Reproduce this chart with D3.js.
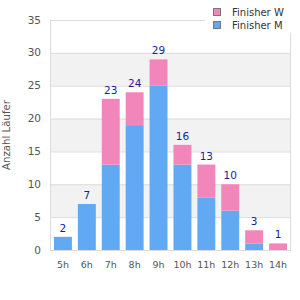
<!DOCTYPE html>
<html>
<head>
<meta charset="utf-8">
<script src="https://cdn.jsdelivr.net/npm/d3@7"></script>
<style>
  body { margin: 0; background: #fff; }
  text { font-family: "DejaVu Sans", sans-serif; }
</style>
</head>
<body>
<div id="chart"></div>
<script>
var hours = ['5h', '6h', '7h', '8h', '9h', '10h', '11h', '12h', '13h', '14h'];
var finisherM = [2, 7, 13, 19, 25, 13, 8, 6, 1, 0];
var finisherW = [0, 0, 10, 5, 4, 3, 5, 4, 2, 1];
var yTicks = [0, 5, 10, 15, 20, 25, 30, 35];
var seriesNames = ['Finisher W', 'Finisher M'];
var seriesColors = ['#f285ba', '#61a9f3'];

var width = 300, height = 300;
var plot = {left: 51, right: 290, top: 20, bottom: 250};

var svg = d3.select('#chart').append('svg')
  .attr('width', width)
  .attr('height', height);

var x = d3.scaleBand()
  .domain(hours)
  .range([plot.left, plot.right])
  .paddingInner(0.25)
  .paddingOuter(0.125);

var y = d3.scaleLinear()
  .domain([0, 35])
  .range([plot.bottom, plot.top]);

// alternating bands
for (var i = 0; i < yTicks.length - 1; i++) {
  if (i % 2 === 1) {
    svg.append('rect')
      .attr('x', plot.left)
      .attr('y', y(yTicks[i + 1]))
      .attr('width', plot.right - plot.left)
      .attr('height', y(yTicks[i]) - y(yTicks[i + 1]))
      .attr('fill', '#f2f2f2');
  }
}

// grid lines
svg.selectAll('.grid').data(yTicks).enter().append('line')
  .attr('x1', plot.left).attr('x2', plot.right)
  .attr('y1', function(d) { return y(d) + 0.5; })
  .attr('y2', function(d) { return y(d) + 0.5; })
  .attr('stroke', '#dcdcdc');

// plot frame sides
svg.append('line')
  .attr('x1', plot.left - 0.5).attr('x2', plot.left - 0.5)
  .attr('y1', plot.top).attr('y2', plot.bottom + 1)
  .attr('stroke', '#dcdcdc');
svg.append('line')
  .attr('x1', plot.right + 0.5).attr('x2', plot.right + 0.5)
  .attr('y1', plot.top).attr('y2', plot.bottom + 1)
  .attr('stroke', '#dcdcdc');

// stacked bars
var rows = hours.map(function(h, i) {
  return {hour: h, m: finisherM[i], w: finisherW[i]};
});
var stack = d3.stack().keys(['m', 'w'])(rows);
var colorFor = {m: seriesColors[1], w: seriesColors[0]};

stack.forEach(function(layer) {
  svg.append('g').selectAll('rect').data(layer).enter().append('rect')
    .attr('x', function(d) { return x(d.data.hour); })
    .attr('y', function(d) { return y(d[1]); })
    .attr('width', x.bandwidth())
    .attr('height', function(d) { return y(d[0]) - y(d[1]); })
    .attr('fill', colorFor[layer.key]);
});

// totals
svg.append('g').selectAll('text').data(rows).enter().append('text')
  .attr('x', function(d) { return x(d.hour) + x.bandwidth() / 2; })
  .attr('y', function(d) { return y(d.m + d.w) - 5; })
  .attr('text-anchor', 'middle')
  .attr('font-family', '"Liberation Sans", Arial, sans-serif')
  .attr('font-size', 10.5)
  .attr('fill', '#1c1c96')
  .text(function(d) { return d.m + d.w; });

// y axis labels
svg.append('g').selectAll('text').data(yTicks).enter().append('text')
  .attr('x', 41)
  .attr('y', function(d) { return y(d) + 3.5; })
  .attr('text-anchor', 'end')
  .attr('font-size', 10.5)
  .attr('fill', '#555')
  .text(function(d) { return d; });

// x axis labels
svg.append('g').selectAll('text').data(hours).enter().append('text')
  .attr('x', function(d) { return x(d) + x.bandwidth() / 2; })
  .attr('y', 268)
  .attr('text-anchor', 'middle')
  .attr('font-family', '"Liberation Sans", Arial, sans-serif')
  .attr('font-size', 9.5)
  .attr('fill', '#555')
  .text(function(d) { return d; });

// y title
svg.append('text')
  .attr('transform', 'translate(10,135) rotate(-90)')
  .attr('text-anchor', 'middle')
  .attr('font-size', 10.2)
  .attr('fill', '#555')
  .text('Anzahl Läufer');

// legend
var legend = svg.append('g');
legend.append('rect')
  .attr('x', 205).attr('y', 0)
  .attr('width', 95).attr('height', 33)
  .attr('fill', '#fff');
seriesNames.forEach(function(name, i) {
  legend.append('rect')
    .attr('x', 213.5).attr('y', 8.5 + i * 13)
    .attr('width', 7).attr('height', 7)
    .attr('fill', seriesColors[i])
    .attr('stroke', '#777');
  legend.append('text')
    .attr('x', 232).attr('y', 16 + i * 13)
    .attr('font-size', 10)
    .attr('fill', '#333')
    .text(name);
});
</script>
</body>
</html>
